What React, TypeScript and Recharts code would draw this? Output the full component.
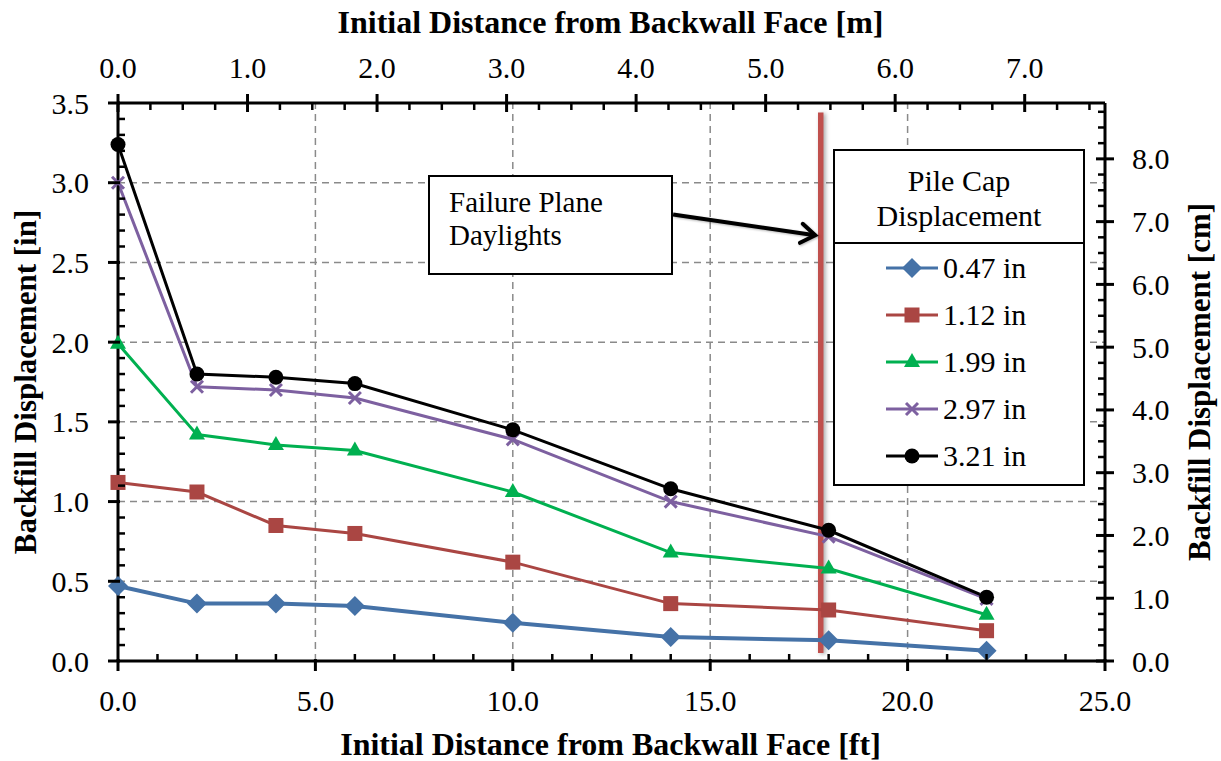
import { LineChart, Line, XAxis, YAxis, ReferenceLine, Legend } from 'recharts';

const FONT = '"Liberation Serif", "DejaVu Serif", "Times New Roman", Times, serif';

// initial distance from backwall face [ft]
const distanceFt = [0, 2, 4, 6, 10, 14, 18, 22];

// backfill displacement [in] for each pile cap displacement
const cap047 = [0.47, 0.36, 0.36, 0.345, 0.24, 0.15, 0.13, 0.065];
const cap112 = [1.12, 1.06, 0.85, 0.8, 0.62, 0.36, 0.32, 0.19];
const cap199 = [1.99, 1.42, 1.355, 1.32, 1.06, 0.68, 0.58, 0.29];
const cap297 = [3.0, 1.72, 1.7, 1.65, 1.39, 1.0, 0.78, 0.39];
const cap321 = [3.24, 1.8, 1.78, 1.74, 1.45, 1.08, 0.82, 0.4];

const seriesNames = ['0.47 in', '1.12 in', '1.99 in', '2.97 in', '3.21 in'];
const seriesValues = [cap047, cap112, cap199, cap297, cap321];
const seriesColors = ['#4572a7', '#aa4643', '#00b050', '#7d60a0', '#000000'];
const seriesMarkers = ['diamond', 'square', 'triangle', 'cross', 'circle'];

// axes
const FT_TO_M = 0.3048;
const ftMax = 25;
const mMax = ftMax * FT_TO_M;
const inMax = 3.5;
const cmMax = inMax * 2.54;
const ftMajor = [0, 5, 10, 15, 20, 25];
const mMajor = [0, 1, 2, 3, 4, 5, 6, 7];
const inMajor = [0, 0.5, 1, 1.5, 2, 2.5, 3, 3.5];
const cmMajor = [0, 1, 2, 3, 4, 5, 6, 7, 8];
const gridFt = [5, 10, 15, 20];
const gridIn = [0.5, 1, 1.5, 2, 2.5, 3];

// failure plane location and callout arrow (data coordinates)
const failurePlaneFt = 17.8;
const arrowFrom = { x: 14.06, y: 2.8 };
const arrowTo = { x: 17.66, y: 2.67 };

const minorTicks = (max: number, step: number) => {
  const out: number[] = [];
  for (let i = 0; i * step <= max + 1e-9; i++) out.push(Math.round(i * step * 1000) / 1000);
  return out;
};

const isMajor = (v: number, majors: number[]) => majors.some((m) => Math.abs(m - v) < 1e-6);

const data = distanceFt.map((d, i) => {
  const row: Record<string, number> = { ft: d, m: d * FT_TO_M };
  seriesNames.forEach((n, k) => {
    row[n] = seriesValues[k][i];
  });
  return row;
});

function Marker({ type, cx, cy, color }: { type: string; cx: number; cy: number; color: string }) {
  if (type === 'diamond') {
    const r = 10;
    return <path d={`M${cx},${cy - r}L${cx + r},${cy}L${cx},${cy + r}L${cx - r},${cy}Z`} fill={color} />;
  }
  if (type === 'square') {
    return <rect x={cx - 7.5} y={cy - 7.5} width={15} height={15} fill={color} />;
  }
  if (type === 'triangle') {
    return <path d={`M${cx},${cy - 9}L${cx + 8},${cy + 5}L${cx - 8},${cy + 5}Z`} fill={color} />;
  }
  if (type === 'cross') {
    const r = 6;
    return (
      <path
        d={`M${cx - r},${cy - r}L${cx + r},${cy + r}M${cx - r},${cy + r}L${cx + r},${cy - r}`}
        stroke={color}
        strokeWidth={3}
        fill="none"
      />
    );
  }
  return <circle cx={cx} cy={cy} r={7.5} fill={color} />;
}

const makeDot = (type: string, color: string) => (props: any) => {
  const { cx, cy, index } = props;
  if (cx == null || cy == null) return <g key={index} />;
  return <Marker key={index} type={type} cx={cx} cy={cy} color={color} />;
};

const tickText = { fontFamily: FONT, fontSize: 30, fill: '#000' };

function BottomTick({ x, y, payload }: any) {
  const v = payload.value;
  if (!isMajor(v, ftMajor)) return <line x1={x} x2={x} y1={y} y2={y - 7} stroke="#000" strokeWidth={2.5} />;
  return (
    <g>
      <line x1={x} x2={x} y1={y - 2} y2={y + 10} stroke="#000" strokeWidth={3} />
      <text x={x} y={y + 39} textAnchor="middle" dominantBaseline="central" style={tickText}>
        {v.toFixed(1)}
      </text>
    </g>
  );
}

function TopTick({ x, y, payload }: any) {
  const v = payload.value;
  if (!isMajor(v, mMajor)) return <line x1={x} x2={x} y1={y} y2={y + 7} stroke="#000" strokeWidth={2.5} />;
  return (
    <g>
      <line x1={x} x2={x} y1={y - 9} y2={y + 9} stroke="#000" strokeWidth={3} />
      <text x={x} y={y - 36} textAnchor="middle" dominantBaseline="central" style={tickText}>
        {v.toFixed(1)}
      </text>
    </g>
  );
}

function LeftTick({ x, y, payload }: any) {
  const v = payload.value;
  if (!isMajor(v, inMajor)) return <line x1={x} x2={x + 7} y1={y} y2={y} stroke="#000" strokeWidth={2.5} />;
  return (
    <g>
      <line x1={x - 10} x2={x + 2} y1={y} y2={y} stroke="#000" strokeWidth={3} />
      <text x={x - 29} y={y} textAnchor="end" dominantBaseline="central" style={tickText}>
        {v.toFixed(1)}
      </text>
    </g>
  );
}

function RightTick({ x, y, payload }: any) {
  const v = payload.value;
  if (!isMajor(v, cmMajor)) return <line x1={x} x2={x - 7} y1={y} y2={y} stroke="#000" strokeWidth={2.5} />;
  return (
    <g>
      <line x1={x - 9} x2={x + 9} y1={y} y2={y} stroke="#000" strokeWidth={3} />
      <text x={x + 27} y={y} textAnchor="start" dominantBaseline="central" style={tickText}>
        {v.toFixed(1)}
      </text>
    </g>
  );
}

const PlaneLine = (props: any) => (
  <line
    x1={props.x1}
    y1={props.y1}
    x2={props.x2}
    y2={props.y2}
    stroke="#c0504d"
    strokeWidth={5.5}
    style={{ filter: 'drop-shadow(2px 1px 2px rgba(0,0,0,0.35))' }}
  />
);

const ArrowLine = (props: any) => {
  const { x1, y1, x2, y2 } = props;
  const ang = Math.atan2(y2 - y1, x2 - x1);
  const len = 17;
  const p1 = [x2 + len * Math.cos(ang + Math.PI - 0.6), y2 + len * Math.sin(ang + Math.PI - 0.6)];
  const p2 = [x2 + len * Math.cos(ang + Math.PI + 0.6), y2 + len * Math.sin(ang + Math.PI + 0.6)];
  return (
    <g style={{ filter: 'drop-shadow(1px 1px 1px rgba(0,0,0,0.3))' }}>
      <line x1={x1} y1={y1} x2={x2 - 2 * Math.cos(ang)} y2={y2 - 2 * Math.sin(ang)} stroke="#000" strokeWidth={4} />
      <polyline
        points={`${p1[0]},${p1[1]} ${x2},${y2} ${p2[0]},${p2[1]}`}
        fill="none"
        stroke="#000"
        strokeWidth={4}
        strokeLinecap="round"
      />
    </g>
  );
};

function LegendBox() {
  return (
    <div
      style={{
        width: 252,
        height: 337,
        boxSizing: 'border-box',
        border: '2.5px solid #000',
        background: '#fff',
        fontFamily: FONT,
        fontSize: 30,
        color: '#000',
      }}
    >
      <div
        style={{
          height: 93,
          boxSizing: 'border-box',
          borderBottom: '2.5px solid #000',
          textAlign: 'center',
          lineHeight: '35px',
          paddingTop: 12,
        }}
      >
        Pile Cap
        <br />
        Displacement
      </div>
      <div style={{ paddingTop: 0 }}>
        {seriesNames.map((n, k) => (
          <div key={n} style={{ height: 47, display: 'flex', alignItems: 'center', paddingLeft: 49 }}>
            <svg width={56} height={30} style={{ display: 'block' }}>
              <line x1={2} x2={54} y1={15} y2={15} stroke={seriesColors[k]} strokeWidth={3} />
              <Marker type={seriesMarkers[k]} cx={28} cy={15} color={seriesColors[k]} />
            </svg>
            <span style={{ marginLeft: 3 }}>{n}</span>
          </div>
        ))}
      </div>
    </div>
  );
}

const titleStyle = {
  position: 'absolute' as const,
  fontFamily: FONT,
  fontWeight: 'bold' as const,
  fontSize: 32,
  whiteSpace: 'nowrap' as const,
  color: '#000',
  lineHeight: '34px',
};

export default function App() {
  return (
    <div style={{ position: 'absolute', left: 0, top: 0, width: 1221, height: 761, background: '#fff' }}>
      <LineChart width={1221} height={761} data={data} margin={{ top: 0, right: 0, bottom: 0, left: 0 }}>
        <XAxis
          xAxisId="ft"
          dataKey="ft"
          type="number"
          orientation="bottom"
          domain={[0, ftMax]}
          ticks={minorTicks(ftMax, 1)}
          interval={0}
          height={100}
          tickSize={0}
          tickMargin={0}
          tick={<BottomTick />}
          axisLine={{ stroke: '#000', strokeWidth: 3 }}
        />
        <XAxis
          xAxisId="m"
          dataKey="m"
          type="number"
          orientation="top"
          domain={[0, mMax]}
          ticks={minorTicks(7.5, 0.25)}
          interval={0}
          height={103}
          tickSize={0}
          tickMargin={0}
          tick={<TopTick />}
          axisLine={{ stroke: '#000', strokeWidth: 3 }}
          allowDataOverflow
        />
        <YAxis
          yAxisId="in"
          type="number"
          orientation="left"
          domain={[0, inMax]}
          ticks={minorTicks(inMax, 0.1)}
          interval={0}
          width={118}
          tickSize={0}
          tickMargin={0}
          tick={<LeftTick />}
          axisLine={{ stroke: '#000', strokeWidth: 3 }}
        />
        <YAxis
          yAxisId="cm"
          type="number"
          orientation="right"
          domain={[0, cmMax]}
          ticks={minorTicks(8.75, 0.25)}
          interval={0}
          width={116}
          tickSize={0}
          tickMargin={0}
          tick={<RightTick />}
          axisLine={{ stroke: '#000', strokeWidth: 3 }}
          allowDataOverflow
        />

        {gridIn.map((v) => (
          <ReferenceLine
            key={'h' + v}
            xAxisId="ft"
            yAxisId="in"
            y={v}
            stroke="#8a8a8a"
            strokeWidth={1.5}
            strokeDasharray="7 5"
          />
        ))}
        {gridFt.map((v) => (
          <ReferenceLine
            key={'v' + v}
            xAxisId="ft"
            yAxisId="in"
            x={v}
            stroke="#8a8a8a"
            strokeWidth={1.5}
            strokeDasharray="7 5"
          />
        ))}
        <ReferenceLine
          xAxisId="ft"
          yAxisId="in"
          segment={[
            { x: failurePlaneFt, y: 0.05 },
            { x: failurePlaneFt, y: 3.44 },
          ]}
          shape={PlaneLine}
        />

        {seriesNames.map((n, k) => (
          <Line
            key={n}
            xAxisId="ft"
            yAxisId="in"
            type="linear"
            dataKey={n}
            name={n}
            stroke={seriesColors[k]}
            strokeWidth={k === 0 ? 4 : 3}
            dot={makeDot(seriesMarkers[k], seriesColors[k])}
            activeDot={false}
            isAnimationActive={false}
          />
        ))}

        <ReferenceLine xAxisId="ft" yAxisId="in" segment={[arrowFrom, arrowTo]} shape={ArrowLine} />

        <Legend
          layout="vertical"
          align="center"
          verticalAlign="middle"
          content={() => <LegendBox />}
          wrapperStyle={{ left: 833, top: 149, width: 252, height: 337 }}
        />
      </LineChart>

      {/* callout */}
      <div
        style={{
          position: 'absolute',
          left: 428,
          top: 175,
          width: 245,
          height: 100,
          boxSizing: 'border-box',
          border: '2.5px solid #000',
          background: '#fff',
          fontFamily: FONT,
          fontSize: 29,
          lineHeight: '33px',
          padding: '9px 0 0 19px',
        }}
      >
        Failure Plane
        <br />
        Daylights
      </div>

      {/* axis titles */}
      <div style={{ ...titleStyle, left: 0, width: 1221, top: 5, textAlign: 'center' }}>
        Initial Distance from Backwall Face [m]
      </div>
      <div style={{ ...titleStyle, left: 0, width: 1221, top: 727, textAlign: 'center' }}>
        Initial Distance from Backwall Face [ft]
      </div>
      <div
        style={{
          ...titleStyle,
          fontSize: 31,
          left: 26,
          top: 382,
          transform: 'translate(-50%, -50%) rotate(-90deg)',
        }}
      >
        Backfill Displacement [in]
      </div>
      <div
        style={{
          ...titleStyle,
          fontSize: 31,
          left: 1200,
          top: 382,
          transform: 'translate(-50%, -50%) rotate(-90deg)',
        }}
      >
        Backfill Displacement [cm]
      </div>
    </div>
  );
}
